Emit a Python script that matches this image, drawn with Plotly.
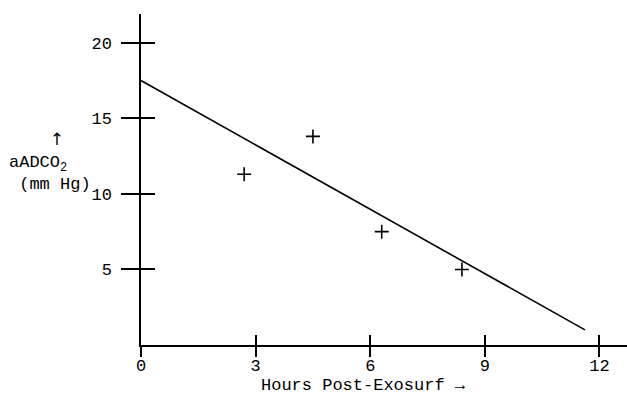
import plotly.graph_objects as go

# Data
hours = [2.7, 4.5, 6.3, 8.4]
aadco2 = [11.3, 13.8, 7.5, 5.0]
fit_hours = [0.0, 11.62]
fit_vals = [17.5, 1.0]

x_ticks = [3, 6, 9, 12]
y_ticks = [5, 10, 15, 20]

FONT = "Liberation Mono, Courier New, monospace"
FS = 17

fig = go.Figure()
fig.add_trace(go.Scatter(x=fit_hours, y=fit_vals, mode="lines",
                         line=dict(color="black", width=1.6), showlegend=False))
fig.add_trace(go.Scatter(x=hours, y=aadco2, mode="markers",
                         marker=dict(symbol="cross-thin", size=10,
                                     line=dict(color="black", width=1.6)),
                         showlegend=False))

xr = [0, 12.72]
yr = [0, 21.9]

fig.update_layout(
    width=627, height=393,
    margin=dict(l=141, r=0, t=14, b=48),
    paper_bgcolor="white", plot_bgcolor="white",
    font=dict(family=FONT, size=FS, color="black"),
    xaxis=dict(range=xr, showgrid=False, zeroline=False, showline=True,
               linecolor="black", linewidth=1.5,
               tickmode="array", tickvals=[0] + x_ticks, ticktext=["0"] + [str(v) for v in x_ticks],
               ticks="outside", ticklen=10, tickwidth=1.5, tickcolor="black",
               ticklabelstandoff=-6),
    yaxis=dict(range=yr, showgrid=False, zeroline=False, showline=True,
               linecolor="black", linewidth=1.5,
               tickmode="array", tickvals=y_ticks,
               ticks="outside", ticklen=18, tickwidth=1.5, tickcolor="black",
               ticklabelstandoff=6),
    xaxis2=dict(range=xr, overlaying="x", showgrid=False, zeroline=False,
                tickmode="array", tickvals=x_ticks, showticklabels=False,
                ticks="inside", ticklen=10, tickwidth=1.5, tickcolor="black",
                side="bottom", anchor="y"),
    yaxis2=dict(range=yr, overlaying="y", showgrid=False, zeroline=False,
                tickmode="array", tickvals=y_ticks, showticklabels=False,
                ticks="inside", ticklen=14, tickwidth=1.5, tickcolor="black",
                side="left", anchor="x"),
)

# invisible trace to activate the overlay axes (inner halves of the crossing ticks)
fig.add_trace(go.Scatter(x=[None], y=[None], xaxis="x2", yaxis="y2",
                         showlegend=False, hoverinfo="skip"))

# y-axis title block
fig.add_annotation(
    text=("\u00a0\u00a0\u00a0\u00a0<span style='font-family:DejaVu Sans;color:black'>\u2191</span>"
          "<br>aADCO<sub>2</sub><br>\u00a0(mm Hg)"),
    xref="paper", yref="paper", x=-134/486, y=(345-127)/331,
    xanchor="left", yanchor="top", align="left", showarrow=False,
    font=dict(family=FONT, size=FS, color="black"),
)

# x-axis title
fig.add_annotation(
    text="Hours Post-Exosurf \u2192",
    xref="paper", yref="paper", x=(363-141)/486, y=-(385-345)/331,
    xanchor="center", yanchor="middle", showarrow=False,
    font=dict(family=FONT, size=FS, color="black"),
)

fig.write_html("out.html", config={"displayModeBar": False},
               post_script="document.body.style.margin='0';document.body.style.overflow='hidden';")
